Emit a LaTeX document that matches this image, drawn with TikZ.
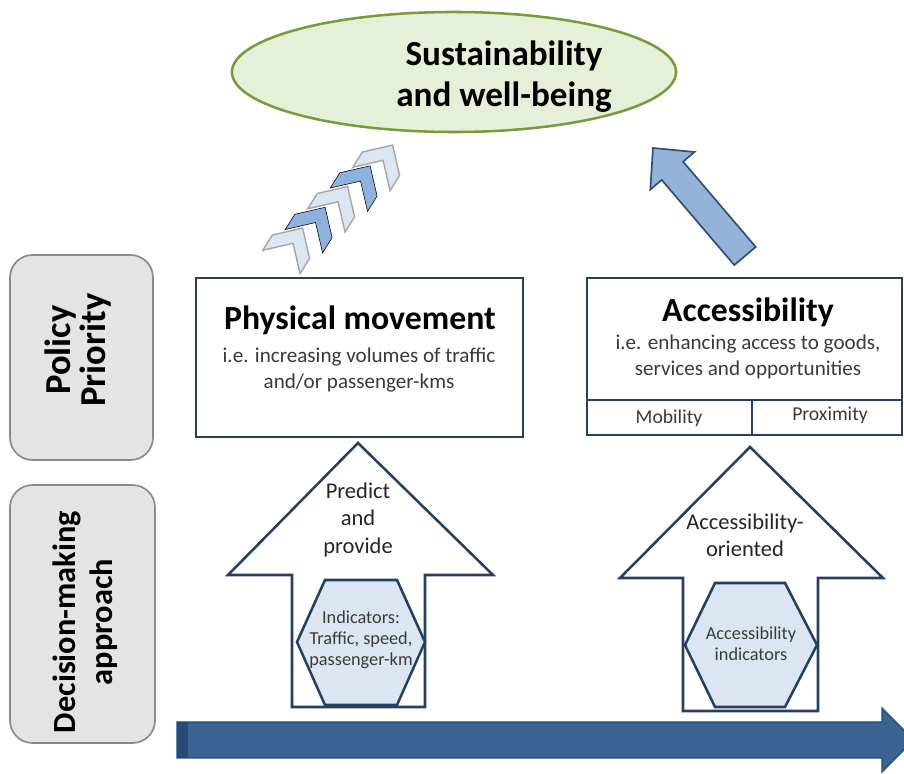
\documentclass[tikz,border=0pt]{standalone}
\usepackage{fontspec}
\setmainfont{Carlito}
\usetikzlibrary{shapes.geometric,positioning}
\definecolor{goalfill}{HTML}{E6EFD8}
\definecolor{goalline}{HTML}{7A9A3E}
\definecolor{boxblue}{HTML}{243F60}
\definecolor{hexfill}{HTML}{DCE6F2}
\definecolor{sidefill}{HTML}{E4E4E4}
\definecolor{sideline}{HTML}{8A8A8A}
\definecolor{chevlight}{HTML}{DCE6F2}
\definecolor{chevdark}{HTML}{8EB1DD}
\definecolor{tiltfill}{HTML}{95B3D7}
\definecolor{tiltline}{HTML}{2F4F78}
\definecolor{timefill}{HTML}{3A6394}
\definecolor{timeline}{HTML}{264B7A}
\definecolor{greytext}{HTML}{3A3A3A}

\tikzset{
  goal/.style={ellipse, draw=goalline, fill=goalfill, line width=1.8pt,
    minimum width=11.1cm, minimum height=3cm, inner sep=0pt},
  goaltext/.style={align=center, inner sep=0pt, font=\bfseries\fontsize{25}{29}\selectfont},
  sidebox/.style={draw=sideline, fill=sidefill, line width=1.2pt, rounded corners=16pt},
  sidetext/.style={rotate=90, align=center, inner sep=0pt, font=\bfseries\fontsize{23}{26}\selectfont},
  priobox/.style={draw=boxblue, fill=white, line width=1.8pt},
  bigtitle/.style={inner sep=0pt, font=\bfseries\fontsize{24}{28}\selectfont},
  subtext/.style={align=center, inner sep=0pt, text=greytext, font=\fontsize{15}{18.4}\selectfont},
  smalltext/.style={inner sep=0pt, text=greytext, font=\fontsize{14}{17}\selectfont},
  uparrow/.style={draw=boxblue, fill=white, line width=1.8pt, line join=miter},
  hexbox/.style={draw=boxblue, fill=hexfill, line width=1.8pt},
  arrowtext/.style={align=center, inner sep=0pt, text=black!85, font=\fontsize{16}{19.5}\selectfont},
  hextext/.style={align=center, inner sep=0pt, text=greytext, font=\fontsize{13}{15}\selectfont},
  chevL/.style={fill=chevlight, draw=black!35, line width=1pt},
  chevD/.style={fill=chevdark},
  tilted/.style={fill=tiltfill, draw=tiltline, line width=1.2pt, line join=miter},
  timearrow/.style={fill=timefill, draw=timeline, line width=1pt}
}

\begin{document}
\begin{tikzpicture}[x=0.025cm, y=-0.025cm]
\useasboundingbox (0,0) rectangle (904,774);
\clip (0,0) rectangle (904,774);

% goal on top
\node[goal] (goal) at (454,72) {};
\node[goaltext] (goalT) at (504,77) {Sustainability\\and well-being};

% chevrons from physical movement
\foreach \i/\sty in {0/chevL,1/chevD,2/chevL,3/chevD,4/chevL}
{   \draw[\sty, shift={(292+22.5*\i,245-20.75*\i)}, rotate=58]
      (20,0) -- (-2,-22) -- (-20,-22) -- (2,0) -- (-20,22) -- (-2,22) -- cycle;
}

% arrow from accessibility
\draw[tilted] (653,148) -- (694.5,152) -- (683.1,161.7) -- (755.7,246.9)
  -- (734.3,265.1) -- (661.7,179.9) -- (650.3,189.6) -- cycle;

% left labels
\draw[sidebox] (10,255) rectangle (153,460);
\node[sidetext, font=\bfseries\fontsize{26}{25}\selectfont] (policy) at (78,350) {Policy\\Priority};
\draw[sidebox] (10,485) rectangle (155,743);
\node[sidetext] (decision) at (85,622) {Decision-making\\approach};

% policy priorities
\draw[priobox] (196,278) rectangle (523,437);
\node[bigtitle] (physT) at (360,320) {Physical movement};
\node[subtext] (physS) at (359,370) {i.e. increasing volumes of traffic\\and/or passenger-kms};

\draw[priobox] (587,278) rectangle (902,435);
\draw[priobox] (587,400) -- (902,400) (752,400) -- (752,435);
\node[bigtitle] (accT) at (748,312) {Accessibility};
\node[subtext] (accS) at (748,357) {i.e. enhancing access to goods,\\services and opportunities};
\node[smalltext] (mob) at (669,418) {Mobility};
\node[smalltext] (prox) at (830,415) {Proximity};

% decision-making approaches
\draw[uparrow] (358,443) -- (493,575) -- (425,575) -- (425,707) -- (292,707)
  -- (292,575) -- (228,575) -- cycle;
\draw[hexbox] (297,642) -- (325,580) -- (397,580) -- (425,642) -- (397,705)
  -- (325,705) -- cycle;
\node[arrowtext] (predict) at (358,520) {Predict\\and\\provide};
\node[hextext] (indL) at (361,640) {Indicators:\\Traffic, speed,\\passenger-km};

\draw[uparrow] (750,447) -- (883,578) -- (818,578) -- (818,711) -- (683,711)
  -- (683,578) -- (620,578) -- cycle;
\draw[hexbox] (685,645) -- (715,583) -- (785,583) -- (817,645) -- (785,707)
  -- (715,707) -- cycle;
\node[arrowtext] (orient) at (745,535) {Accessibility-\\oriented};
\node[hextext] (indR) at (751,644) {Accessibility\\indicators};

% time arrow
\draw[timearrow] (177,722) -- (882,722) -- (882,708) -- (914,740) -- (882,772)
  -- (882,758) -- (177,758) -- cycle;
\fill[timeline] (177,722) rectangle (188,758);
\end{tikzpicture}
\end{document}
